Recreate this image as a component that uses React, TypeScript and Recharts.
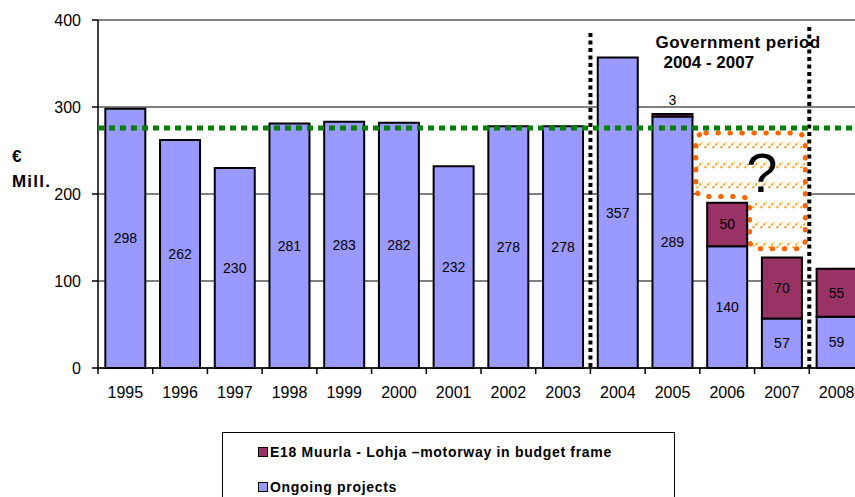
import React from 'react';
import {
  BarChart,
  Bar,
  XAxis,
  YAxis,
  CartesianGrid,
  ReferenceLine,
  ReferenceArea,
  LabelList,
  Legend,
} from 'recharts';

const YEARS = ['1995', '1996', '1997', '1998', '1999', '2000', '2001', '2002', '2003', '2004', '2005', '2006', '2007', '2008'];
const ONGOING = [298, 262, 230, 281, 283, 282, 232, 278, 278, 357, 289, 140, 57, 59];
const E18 = [0, 0, 0, 0, 0, 0, 0, 0, 0, 0, 3, 50, 70, 55];
const Y_TICKS = [0, 100, 200, 300, 400];
const TARGET_LEVEL = 276;
const GOV_START = '2004';
const GOV_END = '2007';
const GOV_TOP = 392;
const GAP_START = '2006';
const GAP_END = '2007';
const GAP_TOP = 270;
const GAP_BOTTOMS = [197, 137];
const LEGEND_LABELS = ['E18 Muurla - Lohja \u2013motorway in budget frame', 'Ongoing projects'];

const COLOR_ONGOING = '#9999FF';
const COLOR_E18 = '#993366';
const FONT = '"Liberation Sans", Arial, sans-serif';

const data = YEARS.map((year, i) => ({ year, ongoing: ONGOING[i], e18: E18[i] }));

const XTick = (props: any) => {
  const { x, y, payload, width, visibleTicksCount } = props;
  const band = width && visibleTicksCount ? width / visibleTicksCount : 54.7;
  const axisY = y - 14;
  const lx = x - band / 2;
  return (
    <g>
      <line x1={lx} y1={axisY} x2={lx} y2={axisY + 6} stroke="#000" strokeWidth={1.5} />
      <text x={x} y={axisY + 30} textAnchor="middle" fontSize={16} fill="#000" fontFamily={FONT}>
        {payload.value}
      </text>
    </g>
  );
};

const GovShape = (props: any) => {
  const { x, y, width, height } = props;
  const bottom = y + height;
  return (
    <g>
      <line x1={x} y1={y + 6} x2={x} y2={bottom} stroke="#000" strokeWidth={4} strokeDasharray="4 3.5" />
      <line x1={x + width} y1={y} x2={x + width} y2={bottom + 2} stroke="#000" strokeWidth={4} strokeDasharray="4 3.5" />
      <text x={x + 65} y={y + 21} fontSize={17} fontWeight="bold" fill="#000" fontFamily={FONT} letterSpacing={0.5}>
        Government period
      </text>
      <text x={x + 73} y={y + 41} fontSize={17} fontWeight="bold" fill="#000" fontFamily={FONT}>
        2004 - 2007
      </text>
    </g>
  );
};

const GapShape = (props: any) => {
  const { x, y, width, height } = props;
  const ppu = height / (GAP_TOP - GAP_BOTTOMS[1]);
  const L = x - 4;
  const R = x + width - 4;
  const M = x + width / 2 - 5;
  const T = y;
  const B1 = y + (GAP_TOP - GAP_BOTTOMS[0]) * ppu;
  const B2 = y + height;
  const r = 10;
  const d = [
    `M${L + r},${T}`,
    `H${R - r}`,
    `Q${R},${T} ${R},${T + r}`,
    `V${B2 - r}`,
    `Q${R},${B2} ${R - r},${B2}`,
    `H${M + r}`,
    `Q${M},${B2} ${M},${B2 - r}`,
    `V${B1 + r}`,
    `Q${M},${B1} ${M - r},${B1}`,
    `H${L + r}`,
    `Q${L},${B1} ${L},${B1 - r}`,
    `V${T + r}`,
    `Q${L},${T} ${L + r},${T}`,
    'Z',
  ].join(' ');
  return (
    <g>
      <defs>
        <pattern id="gapHatch" patternUnits="userSpaceOnUse" width={8} height={20} x={0} y={T + 2}>
          <line x1={0.5} y1={13} x2={6.5} y2={7} stroke="#FF9900" strokeWidth={1.7} strokeDasharray="2.6 1.4" />
        </pattern>
      </defs>
      <path d={d} fill="#fff" stroke="none" />
      <path d={d} fill="url(#gapHatch)" stroke="none" />
      <path d={d} fill="none" stroke="#FF6600" strokeWidth={5} strokeLinecap="round" strokeDasharray="0.5 11.5" />
      <text x={L + 66} y={T + 59} fontSize={56} fill="#000" textAnchor="middle" fontFamily={FONT}>
        ?
      </text>
    </g>
  );
};

const OngoingLabel = (props: any) => {
  const { x, y, width, height, value } = props;
  if (!value) return null;
  return (
    <text x={x + width / 2} y={y + height / 2} dy="0.36em" textAnchor="middle" fontSize={14} fill="#000" fontFamily={FONT}>
      {value}
    </text>
  );
};

const E18Label = (props: any) => {
  const { x, y, width, height, value } = props;
  if (!value) return null;
  if (value < 10) {
    return (
      <text x={x + width / 2} y={y - 9} textAnchor="middle" fontSize={14} fill="#000" fontFamily={FONT}>
        {value}
      </text>
    );
  }
  return (
    <text x={x + width / 2} y={y + height / 2} dy="0.36em" textAnchor="middle" fontSize={14} fill="#000" fontFamily={FONT}>
      {value}
    </text>
  );
};

const YLabel = () => (
  <g>
    <text x={12} y={162} fontSize={17} fontWeight="bold" fill="#000" fontFamily={FONT}>
      €
    </text>
    <text x={12} y={187} fontSize={17} fontWeight="bold" fill="#000" fontFamily={FONT} letterSpacing={1.2}>
      Mill.
    </text>
  </g>
);

const LegendBox = () => {
  const colors = [COLOR_E18, COLOR_ONGOING];
  return (
    <div
      style={{
        width: 453,
        height: 80,
        border: '1.5px solid #000',
        boxSizing: 'border-box',
        position: 'relative',
        fontFamily: FONT,
        fontWeight: 'bold',
        fontSize: 14,
        letterSpacing: 0.7,
        color: '#000',
        background: '#fff',
      }}
    >
      {LEGEND_LABELS.map((label, i) => (
        <div
          key={label}
          style={{
            position: 'absolute',
            left: 35,
            top: 11 + i * 35,
            height: 16,
            display: 'flex',
            alignItems: 'center',
            whiteSpace: 'nowrap',
          }}
        >
          <span
            style={{
              display: 'inline-block',
              width: 8,
              height: 8,
              background: colors[i],
              border: '1px solid #000',
              marginRight: 2,
            }}
          />
          <span>{label}</span>
        </div>
      ))}
    </div>
  );
};

export default function App() {
  return (
    <div
      style={{
        position: 'absolute',
        left: 0,
        top: 0,
        width: 855,
        height: 497,
        overflow: 'hidden',
        background: '#fff',
        fontFamily: FONT,
      }}
    >
      <BarChart
        width={870}
        height={520}
        data={data}
        margin={{ top: 20, right: 6, left: 0, bottom: 10 }}
        barCategoryGap="13.4%"
      >
        <CartesianGrid horizontal vertical={false} stroke="#000" strokeWidth={1} />
        <XAxis
          dataKey="year"
          height={62}
          interval={0}
          axisLine={{ stroke: '#000', strokeWidth: 1.5 }}
          tickLine={false}
          tickSize={6}
          tickMargin={8}
          tick={<XTick />}
        />
        <YAxis
          width={98}
          domain={[0, 400]}
          ticks={Y_TICKS}
          interval={0}
          axisLine={{ stroke: '#000', strokeWidth: 1.5 }}
          tickLine={{ stroke: '#000', strokeWidth: 1.5 }}
          tickSize={6}
          tickMargin={11}
          tick={{ fontSize: 16, fill: '#000', fontFamily: FONT }}
          label={<YLabel />}
        />
        <ReferenceLine y={400} stroke="#808080" strokeWidth={2} />
        <ReferenceArea x1={GOV_START} x2={GOV_END} y1={0} y2={GOV_TOP} shape={<GovShape />} />
        <ReferenceArea x1={GAP_START} x2={GAP_END} y1={GAP_BOTTOMS[1]} y2={GAP_TOP} shape={<GapShape />} />
        <Bar dataKey="ongoing" stackId="a" fill={COLOR_ONGOING} stroke="#000" strokeWidth={2} isAnimationActive={false}>
          <LabelList dataKey="ongoing" content={<OngoingLabel />} />
        </Bar>
        <Bar dataKey="e18" stackId="a" fill={COLOR_E18} stroke="#000" strokeWidth={2} isAnimationActive={false}>
          <LabelList dataKey="e18" content={<E18Label />} />
        </Bar>
        <ReferenceLine y={TARGET_LEVEL} stroke="#008000" strokeWidth={5} strokeDasharray="6 5" zIndex={1000} />
        <Legend content={<LegendBox />} wrapperStyle={{ top: 432, left: 222, width: 460 }} />
      </BarChart>
    </div>
  );
}
